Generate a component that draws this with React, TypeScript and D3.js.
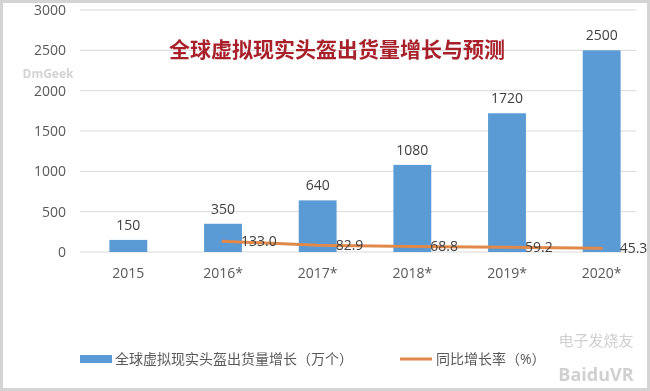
import React, { useEffect, useRef } from 'react';
import * as d3 from 'd3';

const years = ['2015', '2016*', '2017*', '2018*', '2019*', '2020*'];
const shipments = [150, 350, 640, 1080, 1720, 2500];
const growthYears = ['2016*', '2017*', '2018*', '2019*', '2020*'];
const growth = [133.0, 82.9, 68.8, 59.2, 45.3];
const yTicks = [0, 500, 1000, 1500, 2000, 2500, 3000];

const App: React.FC = () => {
  const svgRef = useRef<SVGSVGElement>(null);

  useEffect(() => {
    if (!svgRef.current) return;
    const W = 650;
    const H = 391;
    const font = "'Open Sans', 'Noto Sans CJK SC', sans-serif";

    const svg = d3.select(svgRef.current);
    svg.selectAll('*').remove();
    svg.attr('width', W).attr('height', H);

    // frame
    svg.append('rect')
      .attr('x', 1.5).attr('y', 1.5)
      .attr('width', W - 3).attr('height', H - 3)
      .attr('fill', '#fff')
      .attr('stroke', '#d4d4d4')
      .attr('stroke-width', 3);

    const x = d3.scaleBand()
      .domain(years)
      .range([81, 649])
      .paddingInner(0.6)
      .paddingOuter(0.3);

    const y = d3.scaleLinear()
      .domain([0, 3000])
      .range([252, 10]);

    // gridlines
    svg.append('g')
      .selectAll('line')
      .data(yTicks)
      .enter().append('line')
      .attr('x1', 80).attr('x2', 636)
      .attr('y1', d => y(d)).attr('y2', d => y(d))
      .attr('stroke', '#d9d9d9')
      .attr('stroke-width', 1);

    // Y axis labels
    svg.append('g')
      .selectAll('text')
      .data(yTicks)
      .enter().append('text')
      .attr('x', 66)
      .attr('y', d => y(d))
      .attr('dy', '0.35em')
      .attr('text-anchor', 'end')
      .style('font-family', font)
      .style('font-size', '14px')
      .attr('fill', '#595959')
      .text(d => d);

    // X labels
    svg.append('g')
      .selectAll('text')
      .data(years)
      .enter().append('text')
      .attr('x', d => (x(d) || 0) + x.bandwidth() / 2)
      .attr('y', 278)
      .attr('text-anchor', 'middle')
      .style('font-family', font)
      .style('font-size', '14px')
      .attr('fill', '#595959')
      .text(d => d);

    // Bars
    svg.append('g')
      .selectAll('rect')
      .data(shipments)
      .enter().append('rect')
      .attr('x', (d, i) => x(years[i]) || 0)
      .attr('y', d => y(d))
      .attr('width', x.bandwidth())
      .attr('height', d => y(0) - y(d))
      .attr('fill', '#5b9bd5');

    svg.append('g')
      .selectAll('text')
      .data(shipments)
      .enter().append('text')
      .attr('x', (d, i) => (x(years[i]) || 0) + x.bandwidth() / 2)
      .attr('y', d => y(d) - 10)
      .attr('text-anchor', 'middle')
      .style('font-family', font)
      .style('font-size', '14px')
      .attr('fill', '#404040')
      .text(d => d);

    // growth line
    const cx = (k: string) => (x(k) || 0) + x.bandwidth() / 2;
    const line = d3.line<number>()
      .x((d, i) => cx(growthYears[i]))
      .y(d => y(d));

    svg.append('path')
      .datum(growth)
      .attr('d', line)
      .attr('fill', 'none')
      .attr('stroke', '#e0894a')
      .attr('stroke-width', 3)
      .attr('stroke-linecap', 'round');

    svg.append('g')
      .selectAll('text')
      .data(growth)
      .enter().append('text')
      .attr('x', (d, i) => cx(growthYears[i]) + 18)
      .attr('y', d => y(d))
      .attr('dy', '0.35em')
      .style('font-family', font)
      .style('font-size', '14px')
      .attr('fill', '#404040')
      .text(d => d.toFixed(1));

    // Title
    svg.append('text')
      .attr('x', 337)
      .attr('y', 57)
      .attr('text-anchor', 'middle')
      .style('font-family', "'Noto Sans CJK SC', serif")
      .style('font-size', '21px')
      .style('font-weight', 'bold')
      .attr('fill', '#a8202a')
      .text('全球虚拟现实头盔出货量增长与预测');

    // Legend
    const lg = svg.append('g');
    lg.append('rect')
      .attr('x', 80).attr('y', 355)
      .attr('width', 32).attr('height', 8)
      .attr('fill', '#5b9bd5');
    lg.append('text')
      .attr('x', 115).attr('y', 359)
      .attr('dy', '0.35em')
      .style('font-family', font)
      .style('font-size', '14px')
      .attr('fill', '#595959')
      .text('全球虚拟现实头盔出货量增长（万个）');
    lg.append('line')
      .attr('x1', 400).attr('x2', 432)
      .attr('y1', 359).attr('y2', 359)
      .attr('stroke', '#e0894a')
      .attr('stroke-width', 3);
    lg.append('text')
      .attr('x', 436).attr('y', 359)
      .attr('dy', '0.35em')
      .style('font-family', font)
      .style('font-size', '14px')
      .attr('fill', '#595959')
      .text('同比增长率（%）');

    // watermarks
    svg.append('text')
      .attr('x', 48).attr('y', 78)
      .attr('text-anchor', 'middle')
      .style('font-family', font)
      .style('font-size', '12px')
      .style('font-weight', 'bold')
      .attr('fill', '#c8c8c8')
      .attr('opacity', 0.8)
      .text('DmGeek');
    svg.append('text')
      .attr('x', 596).attr('y', 346)
      .attr('text-anchor', 'middle')
      .style('font-family', "'Noto Sans CJK SC', sans-serif")
      .style('font-size', '15px')
      .attr('fill', '#d0d0d0')
      .text('电子发烧友');
    svg.append('text')
      .attr('x', 596).attr('y', 381)
      .attr('text-anchor', 'middle')
      .style('font-family', font)
      .style('font-size', '18px')
      .style('font-weight', 'bold')
      .attr('fill', '#d0d0d0')
      .text('BaiduVR');
  }, []);

  return (
    <div style={{ position: 'fixed', left: 0, top: 0 }}>
      <svg ref={svgRef}></svg>
    </div>
  );
};

export default App;
